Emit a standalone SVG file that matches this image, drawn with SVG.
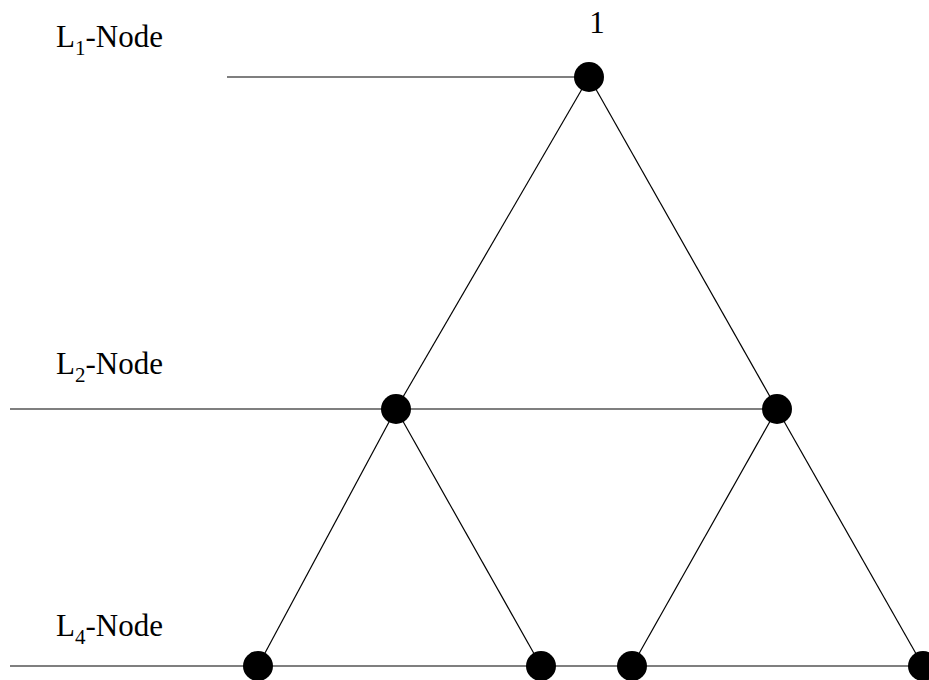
<svg xmlns="http://www.w3.org/2000/svg" width="929" height="680" viewBox="0 0 929 680">
  <style>
    .edge { stroke: #000; stroke-width: 1.2; fill: none; }
    .dot { fill: #000; }
    .lbl { font-family: "Liberation Serif", "Times New Roman", serif; font-size: 31px; fill: #000; }
    .sub { font-size: 21px; }
  </style>
  <rect width="929" height="680" fill="#fff"/>

  <!-- level lines and tree edges -->
  <g id="connectors">
    <line class="edge" x1="227" y1="77" x2="589" y2="77"/>
    <line class="edge" x1="10" y1="409" x2="777" y2="409"/>
    <line class="edge" x1="10" y1="666" x2="923" y2="666"/>
    <line class="edge" x1="589" y1="77" x2="396" y2="409"/>
    <line class="edge" x1="589" y1="77" x2="777" y2="409"/>
    <line class="edge" x1="396" y1="409" x2="258" y2="666"/>
    <line class="edge" x1="396" y1="409" x2="541" y2="666"/>
    <line class="edge" x1="777" y1="409" x2="632" y2="666"/>
    <line class="edge" x1="777" y1="409" x2="923" y2="666"/>
  </g>

  <!-- level labels -->
  <g id="label-l1"><text class="lbl" x="56" y="47">L<tspan class="sub" dy="8">1</tspan><tspan dy="-8">-Node</tspan></text></g>
  <g id="label-l2"><text class="lbl" x="56" y="374">L<tspan class="sub" dy="8">2</tspan><tspan dy="-8">-Node</tspan></text></g>
  <g id="label-l4"><text class="lbl" x="56" y="636">L<tspan class="sub" dy="8">4</tspan><tspan dy="-8">-Node</tspan></text></g>

  <!-- nodes -->
  <g id="node-root">
    <circle class="dot" cx="589" cy="77" r="15"/>
    <text class="lbl" x="597" y="33" text-anchor="middle">1</text>
  </g>
  <g id="node-l2a"><circle class="dot" cx="396" cy="409" r="15"/></g>
  <g id="node-l2b"><circle class="dot" cx="777" cy="409" r="15"/></g>
  <g id="node-l4a"><circle class="dot" cx="258" cy="666" r="15"/></g>
  <g id="node-l4b"><circle class="dot" cx="541" cy="666" r="15"/></g>
  <g id="node-l4c"><circle class="dot" cx="632" cy="666" r="15"/></g>
  <g id="node-l4d"><circle class="dot" cx="923" cy="666" r="15"/></g>
</svg>
